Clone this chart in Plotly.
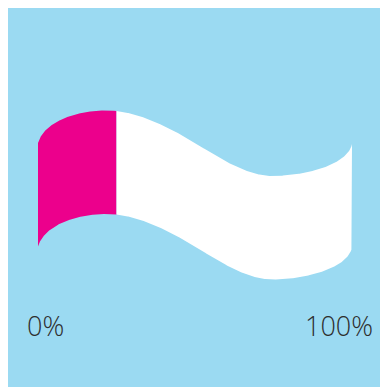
import numpy as np
import plotly.graph_objects as go

# Data
share_labels = ["Filled", "Remaining"]
share_values = [25, 75]          # percent
tick_labels = ["0%", "100%"]

MAGENTA = "#EC008C"
WHITE = "#FFFFFF"
BLUE = "#9BDAF2"

# ---- Flag outline (style only): cubic Bezier chain in page-pixel units ----
X0, X1 = 38.0, 352.0            # flag left/right edges in pixels
THICK = 103.5                   # vertical thickness of the flag
SEGMENTS = [
    [(38, 143), (44, 122), (75, 110.5), (107, 110.5)],
    [(107, 110.5), (140, 110.5), (175, 131), (195, 143)],
    [(195, 143), (215, 155), (245, 176), (272, 176)],
    [(272, 176), (305, 176), (348, 165), (352, 144)],
]


def bezier_points(segs, n=200):
    xs, ys = [], []
    t = np.linspace(0, 1, n)
    for p0, p1, p2, p3 in segs:
        b0 = (1 - t) ** 3
        b1 = 3 * (1 - t) ** 2 * t
        b2 = 3 * (1 - t) * t ** 2
        b3 = t ** 3
        xs.append(b0 * p0[0] + b1 * p1[0] + b2 * p2[0] + b3 * p3[0])
        ys.append(b0 * p0[1] + b1 * p1[1] + b2 * p2[1] + b3 * p3[1])
    return np.concatenate(xs), np.concatenate(ys)


_bx, _by = bezier_points(SEGMENTS)
_bpct = (_bx - X0) / (X1 - X0) * 100.0
_order = np.argsort(_bpct)
_bpct, _by = _bpct[_order], _by[_order]


def top(xpct):
    return np.interp(xpct, _bpct, _by)


def band(x0, x1):
    xs = np.linspace(x0, x1, 400)
    yt = top(xs)
    yb = yt + THICK
    px = np.concatenate([xs, xs[::-1], xs[:1]])
    py = np.concatenate([yt, yb[::-1], yt[:1]])
    return px, py


fig = go.Figure()
start = 0
colors = [MAGENTA, WHITE]
for name, v, c in zip(share_labels, share_values, colors):
    px, py = band(start, start + v)
    fig.add_trace(go.Scatter(x=px, y=py, mode="lines", fill="toself",
                             fillcolor=c, line=dict(width=0, color=c),
                             hoverinfo="skip", name=name, showlegend=False))
    start += v

# labels
px_per_pct = (X1 - X0) / 100.0
fig.add_annotation(x=(25 - X0) / px_per_pct, y=325, text=tick_labels[0], xanchor="left",
                   yanchor="middle", showarrow=False,
                   font=dict(family="Open Sans", size=27, color="#2E2E2E", weight=300))
fig.add_annotation(x=(375 - X0) / px_per_pct, y=325, text=tick_labels[1], xanchor="right",
                   yanchor="middle", showarrow=False,
                   font=dict(family="Open Sans", size=27, color="#2E2E2E", weight=300))

off = 8
fig.update_layout(
    width=388, height=387,
    margin=dict(l=0, r=0, t=0, b=0),
    paper_bgcolor=BLUE,
    plot_bgcolor=BLUE,
    xaxis=dict(range=[(off - X0) / px_per_pct, (388 + off - X0) / px_per_pct],
               visible=False, fixedrange=True),
    yaxis=dict(range=[387 + off, off], visible=False, fixedrange=True),
)

fig.write_html("out.html")
